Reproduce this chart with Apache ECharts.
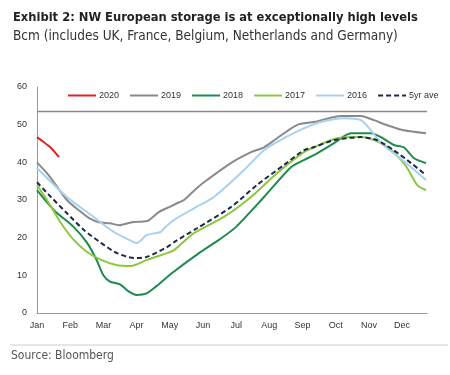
<!DOCTYPE html>
<html>
<head>
<meta charset="utf-8">
<script src="https://cdn.jsdelivr.net/npm/echarts@6/dist/echarts.min.js"></script>
<style>
  html, body { margin: 0; padding: 0; background: #fff; }
  #chart { width: 450px; height: 375px; }
</style>
</head>
<body>
<div id="chart"></div>
<script>
// x is in months from 1 Jan (0 = Jan, 1 = Feb ...)
var months = ['Jan', 'Feb', 'Mar', 'Apr', 'May', 'Jun', 'Jul', 'Aug', 'Sep', 'Oct', 'Nov', 'Dec']
var yTicks = [0, 10, 20, 30, 40, 50, 60]
var capacity = 53.5

var s2020 = [[0, 46.7], [0.2, 45.4], [0.4, 44], [0.55, 42.6], [0.66, 41.4]]
var s2019 = [[0, 40], [0.36, 36.5], [0.9, 30], [1.3, 27], [1.57, 25.2], [1.87, 24.1], [2.2, 23.8], [2.47, 23.3],
  [2.86, 24.1], [3.2, 24.3], [3.37, 24.6], [3.67, 26.8], [4.0, 28.2], [4.28, 29.4], [4.43, 30], [4.82, 33.2],
  [5.12, 35.3], [5.84, 39.8], [6.45, 42.7], [6.84, 44], [7.23, 46.4], [7.83, 49.9], [8.34, 50.7], [9.16, 52.3],
  [9.76, 52.3], [10.15, 51.2], [10.54, 49.9], [11.05, 48.5], [11.72, 47.7]]
var s2018 = [[0, 32.6], [0.51, 27.3], [1.11, 22.8], [1.51, 18.6], [1.8, 14], [2.0, 10], [2.2, 8.3], [2.5, 7.6],
  [2.75, 5.8], [3.0, 4.8], [3.3, 5.2], [3.58, 7], [4.07, 10.6], [4.88, 15.9], [5.48, 19.4], [5.99, 22.8],
  [6.84, 30.8], [7.65, 38.7], [8.04, 40.6], [8.34, 41.9], [8.95, 45.1], [9.46, 47.7], [10.06, 47.7],
  [10.36, 46.7], [10.75, 44.6], [11.05, 44], [11.36, 41.1], [11.72, 39.8]]
var s2017 = [[0, 34], [0.3, 30], [0.72, 23.9], [1.11, 19.4], [1.51, 16.2], [1.93, 14.1], [2.41, 12.7], [2.83, 12.5],
  [3.31, 14.1], [3.92, 15.9], [4.13, 16.7], [4.73, 21.2], [5.63, 25.5], [6.45, 30.8], [7.23, 37.1], [8.04, 42.7],
  [8.34, 44], [9.04, 46.4], [9.76, 46.7], [10.36, 45.1], [10.75, 42.7], [11.14, 38.7], [11.45, 34], [11.72, 32.6]]
var s2016 = [[0, 38.5], [0.9, 30.8], [1.63, 26], [2.32, 21.5], [2.92, 18.8], [3.01, 18.6], [3.31, 20.7],
  [3.73, 21.5], [3.83, 22.5], [4.13, 24.7], [4.73, 27.8], [5.33, 30.8], [6.23, 37.9], [6.84, 43.2], [7.44, 46.4],
  [8.04, 49], [8.55, 50.7], [9.25, 51.7], [9.76, 51.2], [10.06, 48.5], [10.36, 45.1], [10.75, 42.4],
  [11.27, 38.7], [11.72, 35.3]]
var s5yr = [[0, 34.7], [0.42, 30.8], [0.9, 26.5], [1.42, 22], [1.93, 18.6], [2.41, 15.9], [2.92, 14.6],
  [3.31, 14.9], [3.92, 17.5], [4.13, 18.8], [4.82, 22.5], [5.84, 28.1], [6.63, 34], [7.44, 39.3], [8.04, 43.2],
  [8.34, 44], [8.95, 45.9], [9.76, 46.7], [10.24, 45.9], [10.75, 43.2], [11.27, 39.8], [11.72, 36.6]]

var xMax = 11.75
var font = '"Liberation Sans Narrow", "DejaVu Sans Condensed", "Liberation Sans", sans-serif'

function lineSeries(name, data, color, dashed) {
  return {
    name: name,
    type: 'line',
    data: data,
    showSymbol: false,
    symbol: 'none',
    smooth: 0.25,
    lineStyle: { color: color, width: 2, type: dashed ? [5, 3] : 'solid' },
    itemStyle: { color: color }
  }
}

var option = {
  animation: false,
  backgroundColor: '#fff',
  textStyle: { fontFamily: font },
  title: {
    text: 'Exhibit 2: NW European storage is at exceptionally high levels',
    subtext: 'Bcm (includes UK, France, Belgium, Netherlands and Germany)',
    left: 8,
    top: 6,
    itemGap: 5,
    textStyle: { fontFamily: font, fontSize: 12.8, fontWeight: 'bold', color: '#222' },
    subtextStyle: { fontFamily: font, fontSize: 13.5, color: '#333' }
  },
  legend: {
    data: ['2020', '2019', '2018', '2017', '2016', '5yr ave'],
    left: 62,
    top: 86,
    itemWidth: 28,
    itemHeight: 10,
    itemGap: 10,
    itemStyle: { opacity: 0 },
    textStyle: { fontFamily: 'Liberation Sans, sans-serif', fontSize: 9, color: '#333', padding: [0, 0, 0, -2] }
  },
  grid: { left: 37, right: 23, top: 87, bottom: 62, containLabel: false },
  xAxis: {
    type: 'value',
    min: 0,
    max: xMax,
    interval: 1,
    splitLine: { show: false },
    axisTick: { show: false },
    axisLine: { lineStyle: { color: '#999' } },
    axisLabel: {
      fontFamily: 'Liberation Sans, sans-serif',
      fontSize: 9,
      color: '#333',
      margin: 8,
      showMaxLabel: false,
      formatter: function (v) {
        return Number.isInteger(v) && months[v] ? months[v] : ''
      }
    }
  },
  yAxis: {
    type: 'value',
    min: yTicks[0],
    max: yTicks[yTicks.length - 1],
    interval: 10,
    splitLine: { show: false },
    axisTick: { show: false },
    axisLine: { show: true, lineStyle: { color: '#999' } },
    axisLabel: { fontFamily: 'Liberation Sans, sans-serif', fontSize: 9, color: '#333', margin: 10 }
  },
  graphic: [
    {
      type: 'line',
      shape: { x1: 10, y1: 345, x2: 448, y2: 345 },
      style: { stroke: '#ccc', lineWidth: 1 }
    },
    {
      type: 'text',
      left: 11,
      top: 350,
      style: { text: 'Source: Bloomberg', fontFamily: font, fontSize: 12, fill: '#555' }
    }
  ],
  series: [
    {
      name: 'capacity',
      type: 'line',
      data: [[0, capacity], [xMax, capacity]],
      symbol: 'none',
      silent: true,
      lineStyle: { color: '#888', width: 1.5 }
    },
    lineSeries('2020', s2020, '#e02020'),
    lineSeries('2019', s2019, '#8a8a8a'),
    lineSeries('2018', s2018, '#1e8b4c'),
    lineSeries('2017', s2017, '#8dc63f'),
    lineSeries('2016', s2016, '#a8d1ee'),
    lineSeries('5yr ave', s5yr, '#1a2b4c', true)
  ]
}

var myChart = echarts.init(document.getElementById('chart'))
myChart.setOption(option)
</script>
</body>
</html>
